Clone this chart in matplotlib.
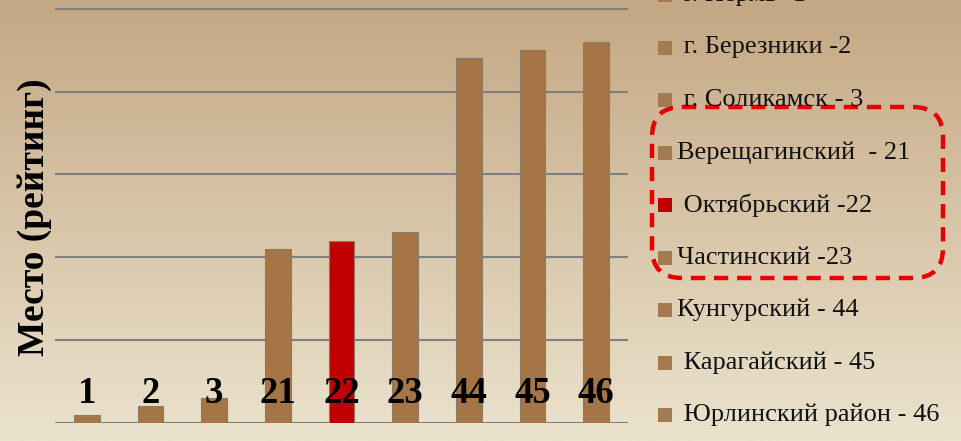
import numpy as np
import matplotlib.pyplot as plt
from matplotlib.patches import FancyBboxPatch, Rectangle

# ranks of the districts (bar height == place in the rating)
places = [1, 2, 3, 21, 22, 23, 44, 45, 46]
bar_labels = ['1', '2', '3', '21', '22', '23', '44', '45', '46']
legend_labels = [' г. Пермь -1', ' г. Березники -2', ' г. Соликамск - 3',
                 'Верещагинский  - 21', ' Октябрьский -22', 'Частинский -23',
                 'Кунгурский - 44', ' Карагайский - 45', ' Юрлинский район - 46']
highlight = 4  # Октябрьский

brown = '#A67545'
red = '#C00000'
colors = [red if i == highlight else brown for i in range(len(places))]

W, H = 961, 441
fig = plt.figure(figsize=(W / 100, H / 100), dpi=100)

# background gradient
bg = fig.add_axes([0, 0, 1, 1], zorder=0)
top = np.array([196, 167, 131]) / 255
bot = np.array([235, 227, 205]) / 255
t = np.linspace(0, 1, 256)[:, None]
grad = top + (bot - top) * t
bg.imshow(grad[:, None, :].repeat(2, axis=1), aspect='auto', extent=[0, 1, 0, 1])
bg.axis('off')

# bar chart
ax = fig.add_axes([55 / W, 18 / H, 573 / W, 1 - 18 / H], zorder=1)
ax.patch.set_alpha(0)
x = np.arange(len(places))
ax.bar(x, places, width=0.4, color=colors, edgecolor='#8a7a6a', linewidth=0.8, zorder=2)
ax.set_xlim(-0.5, len(places) - 0.5)
ax.set_ylim(0, 51.05)
ax.set_yticks(range(0, 51, 10))
ax.grid(axis='y', color='#808080', linewidth=1.5)
ax.set_axisbelow(True)
ax.tick_params(length=0, labelleft=False, labelbottom=False)
for s in ax.spines.values():
    s.set_visible(False)
for xi, lab in zip(x, bar_labels):
    ax.text(xi, 2.4, lab, ha='center', va='baseline', fontsize=26.5,
            fontweight='bold', family='Liberation Serif', color='black', zorder=3)

fig.text(35 / W, 1 - 217 / H, 'Место (рейтинг)', rotation=90, ha='center', va='center',
         fontsize=27, fontweight='bold', family='Liberation Serif', color='black')

# legend + highlight frame, in pixel coordinates
ov = fig.add_axes([0, 0, 1, 1], zorder=2)
ov.set_xlim(0, W)
ov.set_ylim(H, 0)
ov.axis('off')
for i, lab in enumerate(legend_labels):
    yc = -5 + i * 52.5
    c = red if i == highlight else '#A47A50'
    ov.add_patch(Rectangle((658, yc - 7), 14, 14, facecolor=c, edgecolor='none'))
    ov.text(677, yc, lab, ha='left', va='center', fontsize=19,
            family='Liberation Serif', color='#111111')

frame = FancyBboxPatch((652, 107), 291, 171, boxstyle='round,pad=0,rounding_size=30',
                       facecolor='none', edgecolor='#E80000', linewidth=3.2,
                       linestyle=(0, (3.2, 2.0)))
ov.add_patch(frame)

fig.savefig('out.png', dpi=100)
